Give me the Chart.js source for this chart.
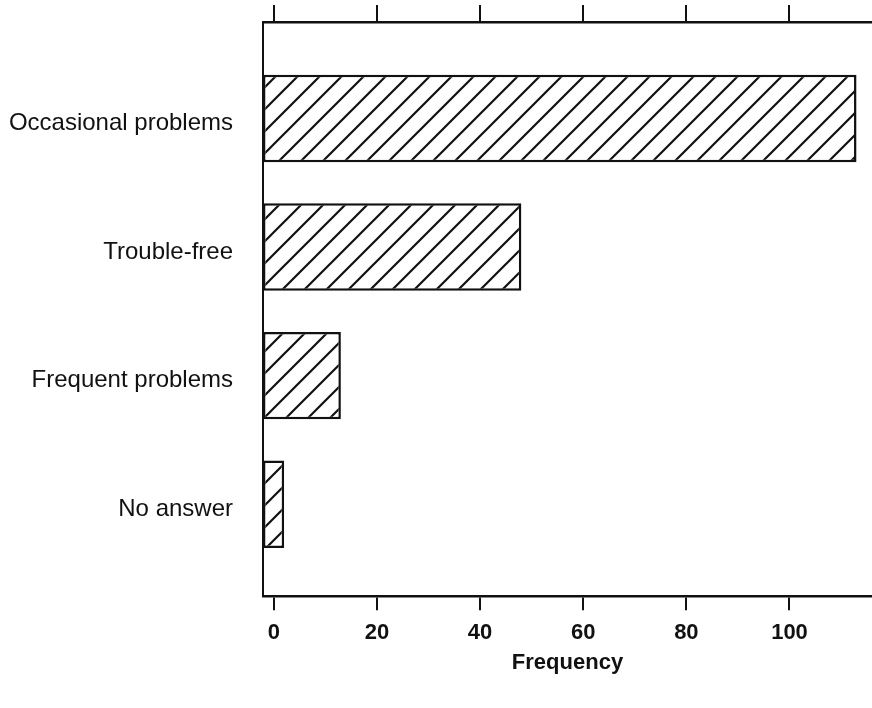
<!DOCTYPE html>
<html>
<head>
<meta charset="utf-8">
<script src="https://cdn.jsdelivr.net/npm/chart.js@4/dist/chart.umd.min.js"></script>
<style>
  html, body { margin: 0; padding: 0; background: #fff; }
  #wrap { width: 872px; height: 708px; }
</style>
</head>
<body>
<div id="wrap"><canvas id="chart" width="872" height="708"></canvas></div>
<script>
// Dữ liệu
const categories = ["Occasional problems", "Trouble-free", "Frequent problems", "No answer"];
const frequencies = [113, 48, 13, 2];
const xTicks = [0, 20, 40, 60, 80, 100];
const axisTitle = "Frequency";

const xMin = -2.1;
const xMax = 116;
const positions = categories.map((c, i) => i + 1);

const FONT = "'Liberation Sans', Arial, Helvetica, sans-serif";
const INK = "#111";

// Tạo mẫu gạch chéo cho cột
function makeHatch() {
  const size = 22;
  const c = document.createElement("canvas");
  c.width = size;
  c.height = size;
  const g = c.getContext("2d");
  g.fillStyle = "#fff";
  g.fillRect(0, 0, size, size);
  g.strokeStyle = INK;
  g.lineWidth = 2.2;
  g.beginPath();
  g.moveTo(-size / 2, size / 2); g.lineTo(size / 2, -size / 2);
  g.moveTo(0, size); g.lineTo(size, 0);
  g.moveTo(size / 2, size * 1.5); g.lineTo(size * 1.5, size / 2);
  g.stroke();
  return g.createPattern(c, "repeat");
}

const ctx = document.getElementById("chart");
const chart = new Chart(ctx, {
  type: "bar",
  data: {
    datasets: [{
      label: axisTitle,
      data: positions.map((p, i) => ({ x: frequencies[i], y: p })),
      base: xMin,
      backgroundColor: makeHatch(),
      borderColor: INK,
      borderWidth: 2.5,
      borderSkipped: false,
      categoryPercentage: 1,
      barPercentage: 0.68,
    }],
  },
  options: {
    indexAxis: "y",
    responsive: false,
    animation: false,
    layout: { padding: { top: 5, right: 0, bottom: 32, left: 0 } },
    plugins: {
      legend: { display: false },
      tooltip: { enabled: false },
    },
    scales: {
      x: {
        type: "linear",
        position: "bottom",
        min: xMin,
        max: xMax,
        afterBuildTicks: s => { s.ticks = xTicks.map(v => ({ value: v })); },
        grid: { drawOnChartArea: false, color: INK, lineWidth: 2, tickLength: 14 },
        border: { display: true, color: INK, width: 2.5 },
        ticks: { color: INK, padding: 10, maxRotation: 0, font: { family: FONT, size: 22, weight: "bold" } },
        title: {
          display: true,
          text: axisTitle,
          color: INK,
          padding: { top: -7, bottom: 0 },
          font: { family: FONT, size: 22, weight: "bold" },
        },
      },
      x2: {
        type: "linear",
        position: "top",
        min: xMin,
        max: xMax,
        afterBuildTicks: s => { s.ticks = xTicks.map(v => ({ value: v })); },
        grid: { drawOnChartArea: false, color: INK, lineWidth: 2, tickLength: 17 },
        border: { display: true, color: INK, width: 2.5 },
        ticks: { display: false },
      },
      y: {
        type: "linear",
        reverse: true,
        offset: false,
        min: 0.25,
        max: 4.715,
        afterBuildTicks: s => { s.ticks = positions.map(v => ({ value: v })); },
        afterFit: s => { s.width = 263; },
        // vạch chia trong suốt, chỉ để đẩy nhãn ra xa trục
        grid: { offset: false, drawOnChartArea: false, drawTicks: true, tickLength: 30, tickColor: "rgba(0,0,0,0)", color: INK },
        border: { display: true, color: INK, width: 2 },
        ticks: {
          color: INK,
          padding: 0,
          labelOffset: 5,
          font: { family: FONT, size: 24 },
          callback: v => categories[v - 1] || "",
        },
      },
    },
  },
});
</script>
</body>
</html>
